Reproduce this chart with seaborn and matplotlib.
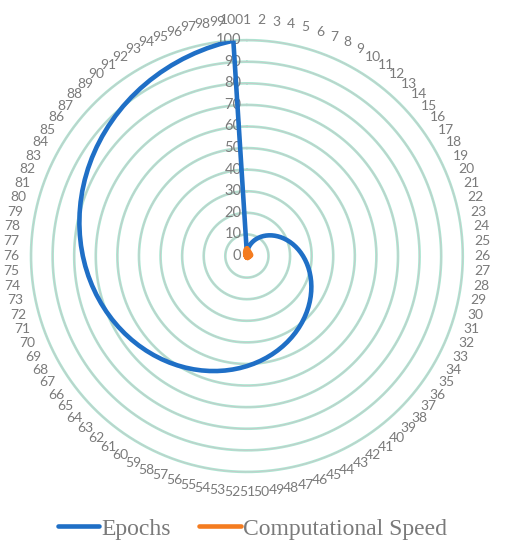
import numpy as np
import pandas as pd
import seaborn as sns
from matplotlib import pyplot as plt

categories = [str(i) for i in range(1, 101)]

epochs = [1, 2, 3, 4, 5, 6, 7, 8, 9, 10,
          11, 12, 13, 14, 15, 16, 17, 18, 19, 20,
          21, 22, 23, 24, 25, 26, 27, 28, 29, 30,
          31, 32, 33, 34, 35, 36, 37, 38, 39, 40,
          41, 42, 43, 44, 45, 46, 47, 48, 49, 50,
          51, 52, 53, 54, 55, 56, 57, 58, 59, 60,
          61, 62, 63, 64, 65, 66, 67, 68, 69, 70,
          71, 72, 73, 74, 75, 76, 77, 78, 79, 80,
          81, 82, 83, 84, 85, 86, 87, 88, 89, 90,
          91, 92, 93, 94, 95, 96, 97, 98, 99, 100]

comp_speed = [3.5, 3.5, 3.2, 3, 2.8, 2.6, 2.5, 2.4, 2.3, 2.2,
              2.1, 2, 2, 2, 2, 2, 2, 2, 2, 2,
              2, 2, 2, 1.8, 1.8, 1.6, 1.5, 1.4, 1.3, 1.2,
              1.2, 1.1, 1, 1, 1, 1, 1, 1, 1, 1,
              1, 1, 1, 1, 1, 0.9, 0.9, 0.8, 0.8, 0.8,
              0.8, 0.7, 0.7, 0.6, 0.6, 0.6, 0.5, 0.5, 0.5, 0.5,
              0.5, 0.5, 0.5, 0.5, 0.5, 0.5, 0.5, 0.5, 0.5, 0.5,
              0.5, 0.5, 0.5, 0.5, 0.5, 0.5, 0.5, 0.5, 0.5, 0.6,
              0.6, 0.7, 0.7, 0.8, 0.8, 0.9, 1, 1, 1.1, 1.2,
              1.3, 1.5, 1.7, 1.9, 2.1, 2.4, 2.7, 3, 3.2, 3.4]

radial_ticks = [0, 10, 20, 30, 40, 50, 60, 70, 80, 90, 100]

sns.set_theme(style="white")
plt.rcParams['font.family'] = ['Lato', 'DejaVu Sans']

n = len(categories)
theta = np.linspace(0, 2 * np.pi, n, endpoint=False)
theta_closed = np.append(theta, theta[0])

df = pd.DataFrame({
    'theta': np.concatenate([theta_closed, theta_closed]),
    'value': epochs + [epochs[0]] + comp_speed + [comp_speed[0]],
    'series': ['Epochs'] * (n + 1) + ['Computational Speed'] * (n + 1),
})

fig = plt.figure(figsize=(5.05, 5.5), dpi=100)
ax = fig.add_axes([0.0614, 0.142, 0.855, 0.785], projection='polar')
ax.set_theta_offset(np.pi / 2)
ax.set_theta_direction(-1)
ax.set_ylim(0, 100)

# ring gridlines (teal with grey centre, like the Excel style)
ring_t = np.linspace(0, 2 * np.pi, 400)
for r in radial_ticks[1:]:
    ax.plot(ring_t, [r] * len(ring_t), color='#ace6d2', lw=1.9, clip_on=False, zorder=1)
    ax.plot(ring_t, [r] * len(ring_t), color='#c8c8c8', lw=0.6, clip_on=False, zorder=1)

sns.lineplot(data=df, x='theta', y='value', hue='series', sort=False, estimator=None,
             units='series', palette={'Epochs': '#1f6fc6', 'Computational Speed': '#f47c20'},
             linewidth=3.3, ax=ax, legend=False, zorder=3)
for line in ax.get_lines()[-2:]:
    line.set_solid_capstyle('round')
    line.set_solid_joinstyle('round')

ax.grid(False)
ax.spines['polar'].set_visible(False)
ax.set_xlabel('')
ax.set_ylabel('')
ax.set_xticks(theta)
ax.set_xticklabels(categories, fontsize=10, color='#7a7a7a')
ax.tick_params(axis='x', pad=1.5)
ax.set_yticks([])
for r in radial_ticks:
    ax.annotate(str(r), xy=(0, r), xytext=(-4, 0), textcoords='offset points',
                ha='right', va='center', fontsize=10.5, color='#7a7a7a', zorder=2)

handles = [plt.Line2D([], [], color='#1f6fc6', lw=3.3, solid_capstyle='round'),
           plt.Line2D([], [], color='#f47c20', lw=3.3, solid_capstyle='round')]
fig.legend(handles, ['Epochs', 'Computational Speed'], loc='lower center',
           bbox_to_anchor=(0.5, -0.02), ncol=2, frameon=False, handlelength=1.75,
           handletextpad=0.1, columnspacing=1.2,
           prop={'family': 'Liberation Serif', 'size': 17}, labelcolor='#7a7a7a')

fig.savefig('out.png', dpi=100)
